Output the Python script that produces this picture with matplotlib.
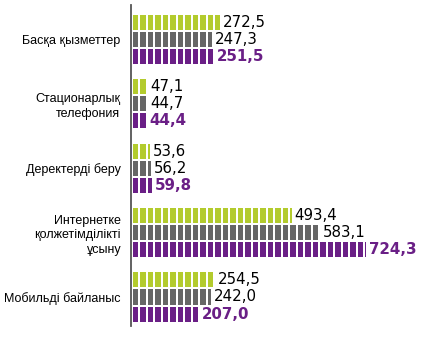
import numpy as np
import matplotlib
matplotlib.use("Agg")
import matplotlib.pyplot as plt

categories = ["Басқа қызметтер", "Стационарлық\nтелефония", "Деректерді беру",
              "Интернетке\nқолжетімділікті\nұсыну", "Мобильді байланыс"]
green_vals = [272.5, 47.1, 53.6, 493.4, 254.5]
gray_vals = [247.3, 44.7, 56.2, 583.1, 242.0]
purple_vals = [251.5, 44.4, 59.8, 724.3, 207.0]

GREEN = "#b3cb2d"
GRAY = "#666666"
PURPLE = "#6a1f86"

STEP = 23.3      # stripe period (data units)
SEG = 17.0       # painted part of each stripe
BAR_H = 0.233
OFFS = 0.264


def striped_bar(ax, y, value, color):
    starts = np.arange(0, value, STEP)
    segs = [(s, min(SEG, value - s)) for s in starts]
    ax.broken_barh(segs, (y - BAR_H / 2, BAR_H), facecolors=color, edgecolor="none")


def fmt(v):
    return f"{v:.1f}".replace(".", ",")


fig = plt.figure(figsize=(4.39, 3.37), dpi=100)
ax = fig.add_axes([131.5 / 439, 11 / 337, (436 - 131.5) / 439, 321 / 337])

y = np.arange(len(categories))
series = [(green_vals, -OFFS, GREEN, "black", "normal"),
          (gray_vals, 0.0, GRAY, "black", "normal"),
          (purple_vals, OFFS, PURPLE, PURPLE, "bold")]

for vals, off, col, tcol, weight in series:
    for yi, v in zip(y, vals):
        striped_bar(ax, yi + off, v, col)
        ax.annotate(fmt(v), (v, yi + off), xytext=(2, 0), textcoords="offset points",
                    ha="left", va="center", fontsize=10.8, color=tcol,
                    fontweight=weight, family="DejaVu Sans")

ax.set_xlim(-4, (436 - 131.5) / 0.3217 - 4)
ax.set_ylim(4.45, -0.53)

for s in ["top", "right", "bottom"]:
    ax.spines[s].set_visible(False)
ax.spines["left"].set_color("#555555")
ax.spines["left"].set_linewidth(1.3)
ax.set_xticks([])
ax.set_yticks(y)
ax.set_yticklabels(categories, fontsize=9.0, family="Liberation Sans",
                   linespacing=1.3, ha="right")
ax.tick_params(axis="y", length=0, pad=8)

fig.savefig("out.png", dpi=100)
